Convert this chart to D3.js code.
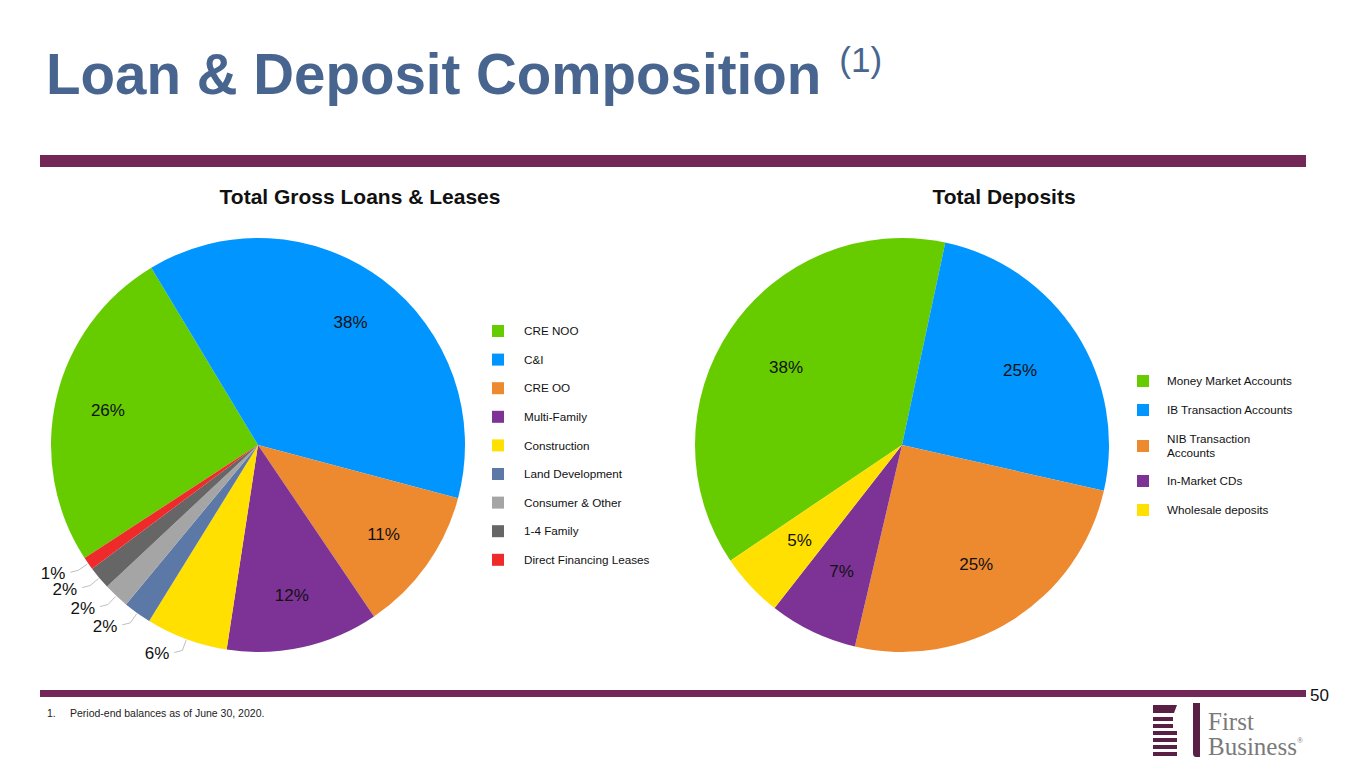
<!DOCTYPE html>
<html>
<head>
<meta charset="utf-8">
<script src="https://cdn.jsdelivr.net/npm/d3@7"></script>
<style>
  body { margin: 0; background: #fff; }
  svg { display: block; font-family: "Liberation Sans", Arial, sans-serif; }
</style>
</head>
<body>
<div id="chart"></div>
<script>
// loans
const loanCategories = ["CRE NOO", "C&I", "CRE OO", "Multi-Family", "Construction",
  "Land Development", "Consumer & Other", "1-4 Family", "Direct Financing Leases"];
const loanValues = [25.6, 37.8, 11.4, 11.9, 6.4, 2.2, 2.0, 1.8, 1.0];
const loanColors = ["#66cc00", "#0095ff", "#ed8a2f", "#7d3296", "#ffe000",
  "#5b78a6", "#a5a5a5", "#666666", "#ee2a2a"];

// deposits
const depositCategories = ["Money Market Accounts", "IB Transaction Accounts",
  "NIB Transaction Accounts", "In-Market CDs", "Wholesale deposits"];
const depositValues = [37.8, 25.2, 25.1, 6.9, 5.0];
const depositColors = ["#66cc00", "#0095ff", "#ed8a2f", "#7d3296", "#ffe000"];

const W = 1365, H = 768;
const purple = "#722757";
const deg = Math.PI / 180;

const svg = d3.select("#chart").append("svg")
    .attr("width", W)
    .attr("height", H);

// header
const title = svg.append("text")
    .attr("x", 46)
    .attr("y", 94)
    .attr("font-size", 56.5)
    .attr("font-weight", "bold")
    .attr("fill", "#48658f")
    .text("Loan & Deposit Composition");
title.append("tspan")
    .attr("dx", 18)
    .attr("dy", -22)
    .attr("font-size", 35)
    .attr("font-weight", "normal")
    .text("(1)");

svg.append("rect").attr("x", 40).attr("y", 155).attr("width", 1266).attr("height", 12).attr("fill", purple);
svg.append("rect").attr("x", 40).attr("y", 690).attr("width", 1266).attr("height", 7).attr("fill", purple);

svg.append("text")
    .attr("x", 1310).attr("y", 701)
    .attr("font-size", 17)
    .attr("fill", "#111")
    .text("50");

const foot = svg.append("text")
    .attr("y", 717)
    .attr("font-size", 10.5)
    .attr("fill", "#222");
foot.append("tspan").attr("x", 47).text("1.");
foot.append("tspan").attr("x", 70).text("Period-end balances as of June 30, 2020.");

function drawPie(opts) {
    const g = svg.append("g").attr("transform", `translate(${opts.cx}, ${opts.cy})`);
    const data = opts.categories.map((c, i) => ({ name: c, value: opts.values[i], color: opts.colors[i] }));
    const pie = d3.pie().sort(null).value(d => d.value)
        .startAngle(opts.start * deg)
        .endAngle(opts.start * deg + 2 * Math.PI);
    const arcs = pie(data);
    const arc = d3.arc().innerRadius(0).outerRadius(opts.r);

    g.selectAll("path.slice")
        .data(arcs)
        .enter()
        .append("path")
        .attr("class", "slice")
        .attr("d", arc)
        .attr("fill", d => d.data.color);

    const inner = arcs.filter(d => d.data.value >= opts.minInside);
    const outer = arcs.filter(d => d.data.value < opts.minInside);
    const labelArc = d3.arc().innerRadius(opts.labelR).outerRadius(opts.labelR);

    g.selectAll("text.inlabel")
        .data(inner)
        .enter()
        .append("text")
        .attr("class", "inlabel")
        .attr("transform", d => `translate(${labelArc.centroid(d)})`)
        .attr("text-anchor", "middle")
        .attr("dy", "0.35em")
        .attr("font-size", 17)
        .attr("fill", "#111")
        .text(d => Math.round(d.data.value) + "%");

    // small slices: label outside with a short leader line
    const polar = (a, rr) => [rr * Math.sin(a), -rr * Math.cos(a)];
    outer.forEach(d => {
        const a = (d.startAngle + d.endAngle) / 2;
        const p0 = polar(a, opts.r + 1);
        const p1 = polar(a, opts.r + 12);
        const p2 = [p1[0] - 8, p1[1] + 2];
        g.append("polyline")
            .attr("points", [p0, p1, p2].map(p => p.join(",")).join(" "))
            .attr("fill", "none")
            .attr("stroke", "#bfbfbf")
            .attr("stroke-width", 1);
        g.append("text")
            .attr("x", p2[0] - 5)
            .attr("y", p2[1] + 1)
            .attr("dy", "0.35em")
            .attr("text-anchor", "end")
            .attr("font-size", 17)
            .attr("fill", "#111")
            .text(Math.round(d.data.value) + "%");
    });

    svg.append("text")
        .attr("x", opts.titleX).attr("y", 204)
        .attr("text-anchor", "middle")
        .attr("font-size", 21)
        .attr("font-weight", "bold")
        .attr("fill", "#111")
        .text(opts.title);

    // legend
    const lg = svg.append("g").attr("transform", `translate(${opts.legendX}, 0)`);
    const rows = lg.selectAll("g")
        .data(data)
        .enter()
        .append("g")
        .attr("transform", (d, i) => `translate(0, ${opts.legendY[i]})`);
    rows.append("rect")
        .attr("x", 0).attr("y", -6)
        .attr("width", 12).attr("height", 12)
        .attr("fill", d => d.color);
    rows.each(function (d) {
        const lines = opts.wrap[d.name] || [d.name];
        const t = d3.select(this).append("text")
            .attr("font-size", 11.7)
            .attr("fill", "#111");
        lines.forEach((ln, j) => {
            t.append("tspan")
                .attr("x", opts.textDx)
                .attr("y", (j - (lines.length - 1) / 2) * 14)
                .attr("dy", "0.35em")
                .text(ln);
        });
    });
}

drawPie({
    cx: 258, cy: 445, r: 207, start: -123.1,
    categories: loanCategories, values: loanValues, colors: loanColors,
    minInside: 7, labelR: 154,
    title: "Total Gross Loans & Leases", titleX: 360,
    legendX: 492, textDx: 32,
    legendY: [331, 359.6, 388.2, 416.8, 445.4, 474, 502.6, 531.2, 559.8],
    wrap: {}
});

drawPie({
    cx: 902, cy: 445, r: 207, start: -124,
    categories: depositCategories, values: depositValues, colors: depositColors,
    minInside: 1, labelR: 140,
    title: "Total Deposits", titleX: 1004,
    legendX: 1137, textDx: 30,
    legendY: [381, 410, 446, 481, 510],
    wrap: { "NIB Transaction Accounts": ["NIB Transaction", "Accounts"] }
});

// logo
const logo = svg.append("g");
logo.append("path")
    .attr("d", "M1153,705 L1177,705 L1174,713 L1153,713 Z")
    .attr("fill", "#5a1f45");
d3.range(6).forEach(i => {
    logo.append("rect")
        .attr("x", 1153).attr("y", 717 + i * 7)
        .attr("width", 24 - (i < 2 ? 4 : 0)).attr("height", 4)
        .attr("fill", "#5a1f45");
});
logo.append("path")
    .attr("d", "M1193,703 L1200,703 L1200,757 L1196,757 Q1193,757 1193,753 Z")
    .attr("fill", "#5a1f45");
logo.append("text")
    .attr("x", 1208).attr("y", 730)
    .attr("font-family", "Liberation Serif, serif")
    .attr("font-size", 25)
    .attr("fill", "#7a7a7a")
    .text("First");
logo.append("text")
    .attr("x", 1208).attr("y", 755)
    .attr("font-family", "Liberation Serif, serif")
    .attr("font-size", 25)
    .attr("fill", "#7a7a7a")
    .text("Business")
    .append("tspan").attr("font-size", 8).attr("dy", -12).text("®");
</script>
</body>
</html>
